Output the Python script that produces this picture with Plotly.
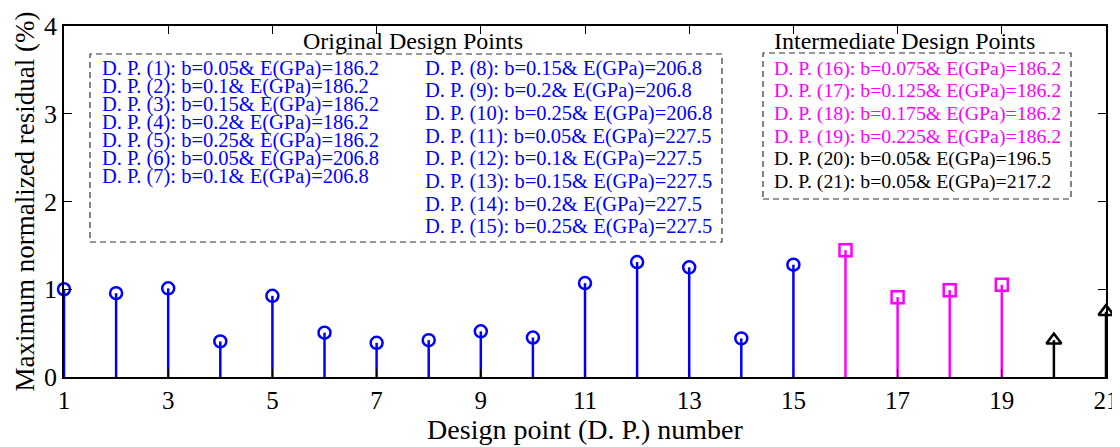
import plotly.graph_objects as go

# ---- data ----
dp_orig = list(range(1, 16))
res_orig = [1.00, 0.955, 1.01, 0.405, 0.925, 0.505, 0.39, 0.42, 0.52, 0.45,
            1.07, 1.31, 1.25, 0.44, 1.28]
dp_inter_b = [16, 17, 18, 19]
res_inter_b = [1.445, 0.91, 0.99, 1.05]
dp_inter_e = [20, 21]
res_inter_e = [0.42, 0.745]

x_ticks = list(range(1, 22, 2))
y_ticks = [0, 1, 2, 3, 4]

orig_lines_col1 = [
    "D. P. (1): b=0.05& E(GPa)=186.2",
    "D. P. (2): b=0.1& E(GPa)=186.2",
    "D. P. (3): b=0.15& E(GPa)=186.2",
    "D. P. (4): b=0.2& E(GPa)=186.2",
    "D. P. (5): b=0.25& E(GPa)=186.2",
    "D. P. (6): b=0.05& E(GPa)=206.8",
    "D. P. (7): b=0.1& E(GPa)=206.8",
]
orig_lines_col2 = [
    "D. P. (8): b=0.15& E(GPa)=206.8",
    "D. P. (9): b=0.2& E(GPa)=206.8",
    "D. P. (10): b=0.25& E(GPa)=206.8",
    "D. P. (11): b=0.05& E(GPa)=227.5",
    "D. P. (12): b=0.1& E(GPa)=227.5",
    "D. P. (13): b=0.15& E(GPa)=227.5",
    "D. P. (14): b=0.2& E(GPa)=227.5",
    "D. P. (15): b=0.25& E(GPa)=227.5",
]
inter_lines = [
    "D. P. (16): b=0.075& E(GPa)=186.2",
    "D. P. (17): b=0.125& E(GPa)=186.2",
    "D. P. (18): b=0.175& E(GPa)=186.2",
    "D. P. (19): b=0.225& E(GPa)=186.2",
    "D. P. (20): b=0.05& E(GPa)=196.5",
    "D. P. (21): b=0.05& E(GPa)=217.2",
]
inter_colors = ["#FF00FF"] * 4 + ["#000000"] * 2

BLUE = "#0000FF"
MAG = "#FF00FF"
BLK = "#000000"
FONT = "Liberation Serif"

OFF = 8  # page body margin
W, H = 1112, 439
# screen plot area: x 64..1106, y 26..377
L, R, T, B = 64 - OFF, 14, 26 - OFF, 70
PW, PH = W - L - R, H - T - B


def px(xs):
    return (xs - OFF - L) / PW


def py(ys):
    return (H - B - (ys - OFF)) / PH


def stems(xs, ys):
    sx, sy = [], []
    for xv, yv in zip(xs, ys):
        sx += [xv, xv, None]
        sy += [0, yv, None]
    return sx, sy


fig = go.Figure()
for xs, ys, col, sym, sz in [
    (dp_orig, res_orig, BLUE, "circle-open", 12),
    (dp_inter_b, res_inter_b, MAG, "square-open", 12),
    (dp_inter_e, res_inter_e, BLK, "triangle-up-open", 13),
]:
    sx, sy = stems(xs, ys)
    fig.add_trace(go.Scatter(x=sx, y=sy, mode="lines",
                             line=dict(color=col, width=2.5),
                             showlegend=False, hoverinfo="skip", cliponaxis=False))
    fig.add_trace(go.Scatter(x=xs, y=ys, mode="markers",
                             marker=dict(symbol=sym, size=sz, color=col,
                                         line=dict(color=col, width=2.5)),
                             showlegend=False, cliponaxis=False))

annotations = []
shapes = []

# boxes
for (x0, y0, x1, y1) in [(90, 54, 722, 242), (763, 53, 1071, 199)]:
    shapes.append(dict(type="rect", xref="paper", yref="paper",
                       x0=px(x0), x1=px(x1), y0=py(y1), y1=py(y0),
                       line=dict(color="#333333", width=1.2, dash="6px,4px"),
                       fillcolor="rgba(0,0,0,0)", layer="above"))

# box titles
annotations.append(dict(text="Original Design Points", xref="paper", yref="paper",
                        x=px(413), y=py(41), xanchor="center", yanchor="middle",
                        showarrow=False, font=dict(family=FONT, size=24, color=BLK)))
annotations.append(dict(text="Intermediate Design Points", xref="paper", yref="paper",
                        x=px(904), y=py(41), xanchor="center", yanchor="middle",
                        showarrow=False, font=dict(family=FONT, size=24, color=BLK)))

FS = 20.5
for i, t in enumerate(orig_lines_col1):
    annotations.append(dict(text=t, xref="paper", yref="paper",
                            x=px(100), y=py(68 + i * 18.1), xanchor="left", yanchor="middle",
                            showarrow=False, font=dict(family=FONT, size=FS, color=BLUE)))
for i, t in enumerate(orig_lines_col2):
    annotations.append(dict(text=t, xref="paper", yref="paper",
                            x=px(423), y=py(68 + i * 22.7), xanchor="left", yanchor="middle",
                            showarrow=False, font=dict(family=FONT, size=FS, color=BLUE)))
for i, (t, c) in enumerate(zip(inter_lines, inter_colors)):
    annotations.append(dict(text=t, xref="paper", yref="paper",
                            x=px(772), y=py(68 + i * 22.7), xanchor="left", yanchor="middle",
                            showarrow=False, font=dict(family=FONT, size=19.8, color=c)))

fig.update_layout(
    width=W, height=H,
    margin=dict(l=L, r=R, t=T, b=B, autoexpand=False),
    paper_bgcolor="white", plot_bgcolor="white",
    font=dict(family=FONT, size=24, color=BLK),
    showlegend=False,
    annotations=annotations,
    shapes=shapes,
    xaxis=dict(range=[1, 21], tickvals=x_ticks, ticktext=[str(v) for v in x_ticks],
               showgrid=False, zeroline=False, showline=True, linecolor=BLK, linewidth=1.5,
               mirror="ticks", ticks="inside", ticklen=8, tickcolor=BLK, automargin=False,
               tickfont=dict(family=FONT, size=25),
               title=dict(text="Design point (D. P.) number", font=dict(family=FONT, size=28),
                          standoff=2)),
    yaxis=dict(range=[0, 4], tickvals=y_ticks, ticktext=[str(v) for v in y_ticks],
               showgrid=False, zeroline=False, showline=True, linecolor=BLK, linewidth=1.5,
               mirror="ticks", ticks="inside", ticklen=8, tickcolor=BLK, automargin=False,
               tickfont=dict(family=FONT, size=26),
               title=dict(text="Maximum normalized residual (%)", font=dict(family=FONT, size=27),
                          standoff=2)),
)

fig.write_html("out.html")
